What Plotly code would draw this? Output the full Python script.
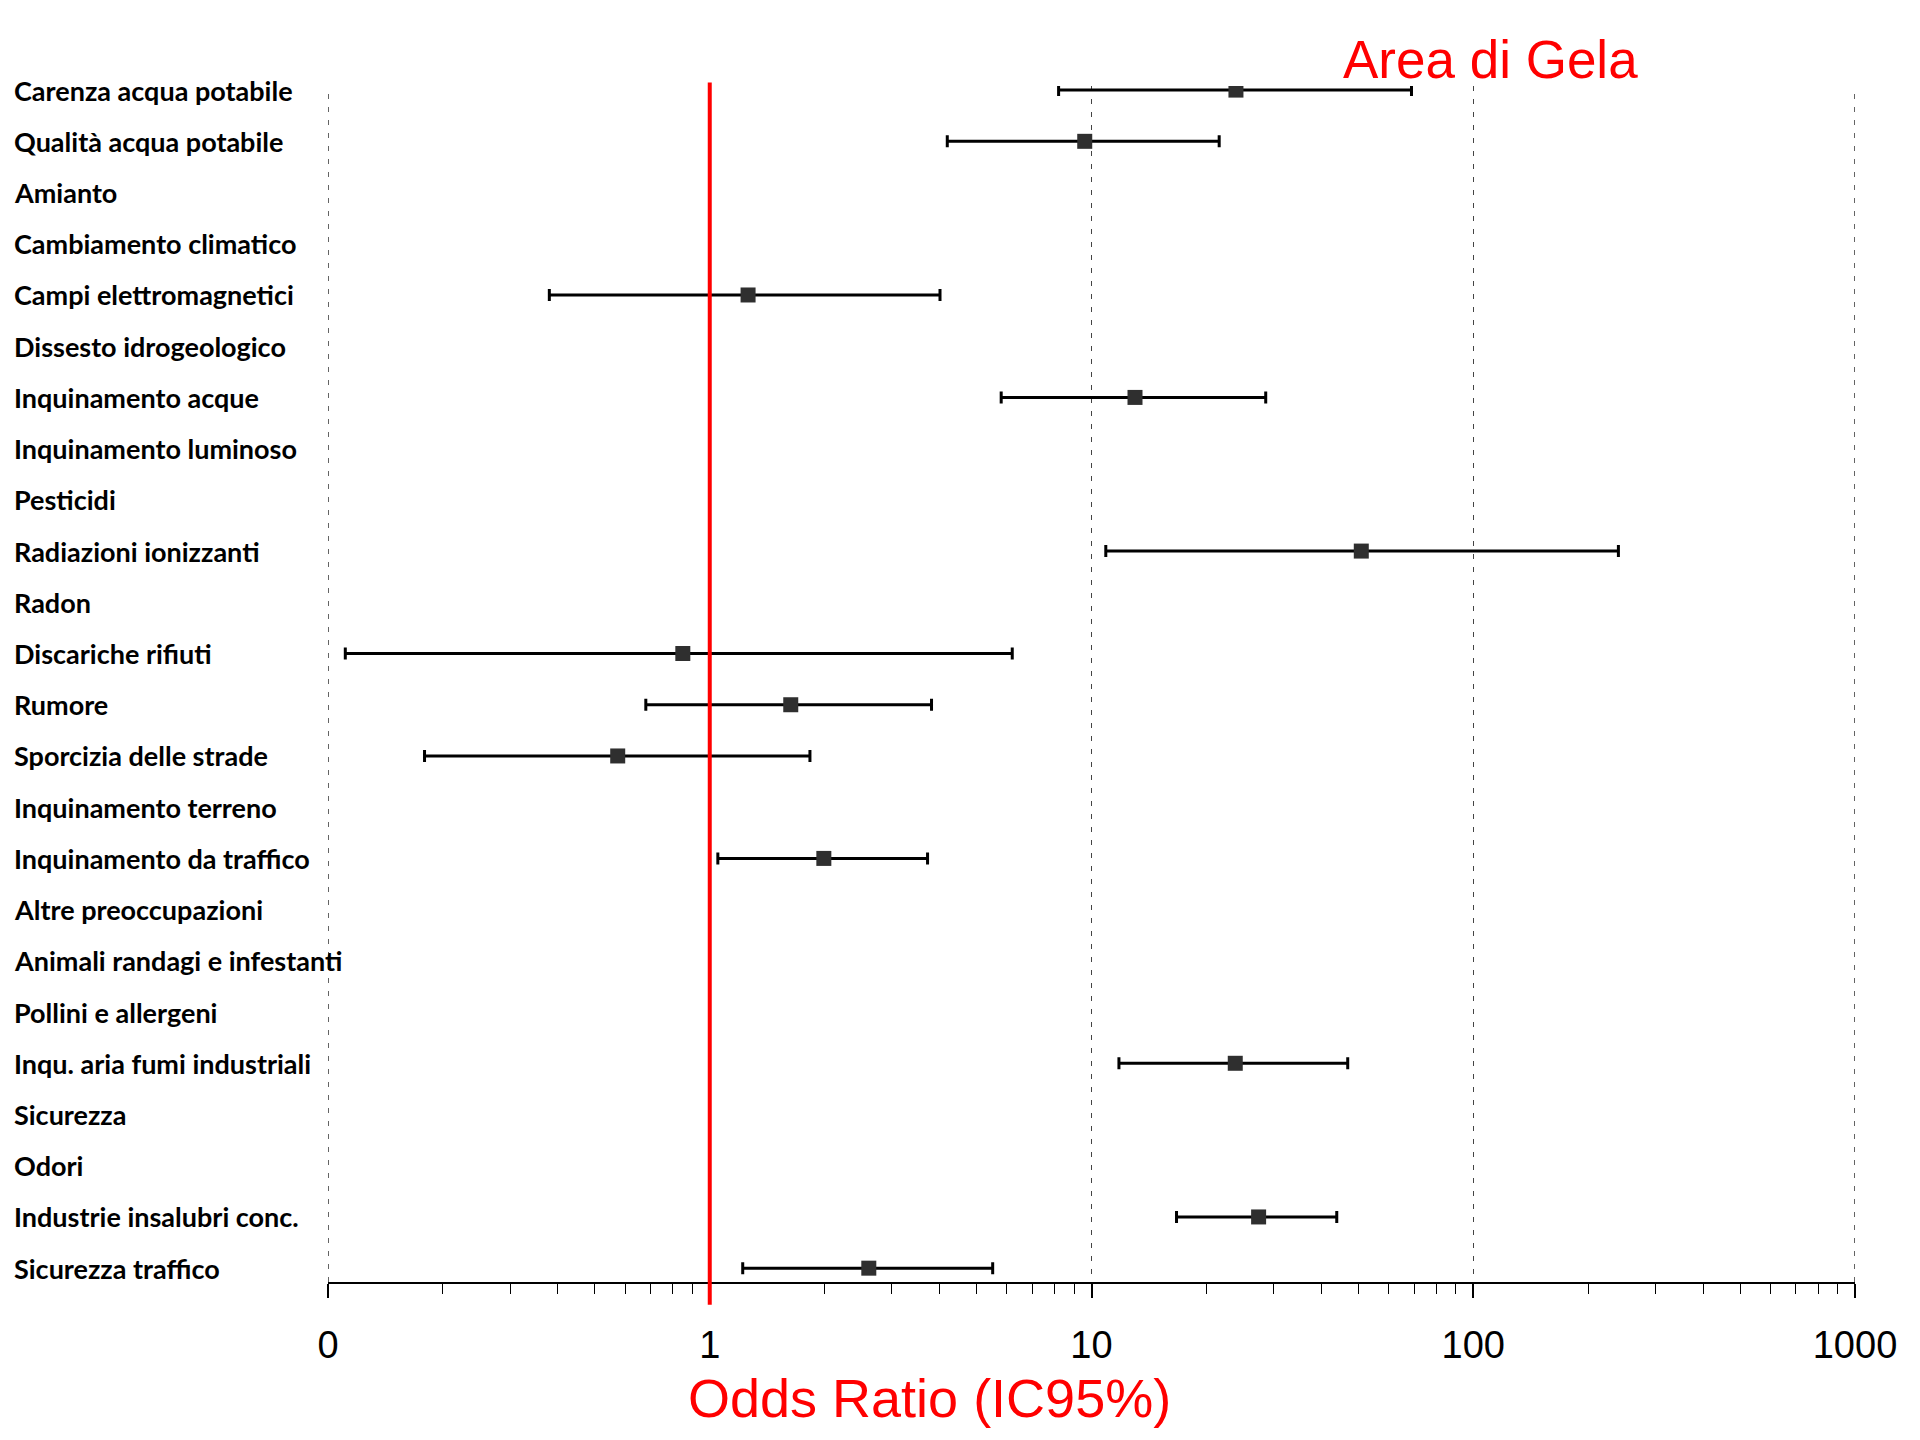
import plotly.graph_objects as go

rows = [
    "Carenza acqua potabile", "Qualità acqua potabile", "Amianto", "Cambiamento climatico",
    "Campi elettromagnetici", "Dissesto idrogeologico", "Inquinamento acque",
    "Inquinamento luminoso", "Pesticidi", "Radiazioni ionizzanti", "Radon",
    "Discariche rifiuti", "Rumore", "Sporcizia delle strade", "Inquinamento terreno",
    "Inquinamento da traffico", "Altre preoccupazioni", "Animali randagi e infestanti",
    "Pollini e allergeni", "Inqu. aria fumi industriali", "Sicurezza", "Odori",
    "Industrie insalubri conc.", "Sicurezza traffico",
]
odds_ratio = [23.9, 9.6, None, None, 1.26, None, 13.0, None, None, 50.9, None,
              0.85, 1.63, 0.574, None, 1.99, None, None, None, 23.8, None, None, 27.4, 2.61]
ci_low = [8.2, 4.19, None, None, 0.38, None, 5.8, None, None, 10.9, None,
          0.111, 0.68, 0.179, None, 1.05, None, None, None, 11.8, None, None, 16.7, 1.22]
ci_high = [68.9, 21.6, None, None, 4.01, None, 28.6, None, None, 240, None,
           6.2, 3.81, 1.83, None, 3.72, None, None, None, 46.9, None, None, 43.9, 5.51]

tick_vals = [0.1, 1, 10, 100, 1000]
tick_text = ["0", "1", "10", "100", "1000"]

idx = [i for i, v in enumerate(odds_ratio) if v is not None]
ys = [rows[i] for i in idx]
xs = [odds_ratio[i] for i in idx]
plus = [ci_high[i] - odds_ratio[i] for i in idx]
minus = [odds_ratio[i] - ci_low[i] for i in idx]

fig = go.Figure()
fig.add_trace(go.Scatter(
    x=xs, y=ys, mode="markers",
    marker=dict(symbol="square", size=15, color="#2f2f2f"),
    error_x=dict(type="data", symmetric=False, array=plus, arrayminus=minus,
                 color="black", thickness=3, width=6),
    showlegend=False,
))

minor_vals = [m * d for d in (0.1, 1, 10, 100) for m in range(2, 10)]

fig.update_xaxes(
    type="log", range=[-1, 3],
    tickvals=tick_vals, ticktext=tick_text,
    showgrid=True, gridcolor="#444444", griddash="5px,8px", gridwidth=1,
    showline=True, linecolor="black", linewidth=2,
    ticks="outside", ticklen=14, tickwidth=1.5, tickcolor="black",
    minor=dict(tickvals=minor_vals, ticks="outside", ticklen=10, tickwidth=1, tickcolor="black", showgrid=False),
    tickfont=dict(family="Liberation Sans, Arial", size=38, color="black"),
    ticklabelstandoff=14,
    zeroline=False,
)
fig.update_yaxes(
    type="category", categoryorder="array", categoryarray=rows,
    range=[23.27, -0.08], showticklabels=False, showgrid=False,
    zeroline=False, showline=False, ticks="",
)

for name in rows:
    fig.add_annotation(
        x=-0.207, xref="paper", xanchor="left", y=name, yref="y",
        text=name, showarrow=False,
        font=dict(family="Lato", size=27, color="black", weight="bold"),
    )

# dashed boundary gridlines at the ends of the axis range
for xv in (tick_vals[0], tick_vals[-1]):
    fig.add_shape(type="line", x0=xv, x1=xv, xref="x", yref="paper", y0=0, y1=1,
                  line=dict(color="#111111", width=1.3, dash="5px,8px"), layer="below")

fig.add_shape(type="line", x0=1, x1=1, xref="x", yref="paper", y0=-0.019, y1=1.003,
              line=dict(color="#ff0000", width=4))

fig.add_annotation(x=0.394, xref="paper", y=-0.097, yref="paper", yanchor="middle",
                   text="Odds Ratio (IC95%)", showarrow=False,
                   font=dict(family="Liberation Sans, Arial", size=54, color="#ff0000"))
fig.add_annotation(x=0.859, xref="paper", y=1.0225, yref="paper", yanchor="middle",
                   text="Area di Gela", showarrow=False,
                   font=dict(family="Liberation Sans, Arial", size=53, color="#ff0000"))

fig.update_layout(
    width=1920, height=1440,
    margin=dict(l=328, r=65, t=86, b=158),
    plot_bgcolor="white", paper_bgcolor="white",
)
fig.write_html("out.html")
